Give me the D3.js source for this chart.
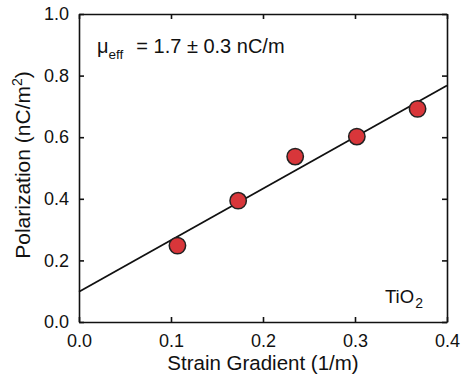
<!DOCTYPE html>
<html>
<head>
<meta charset="utf-8">
<script src="https://cdn.jsdelivr.net/npm/d3@7"></script>
<style>
 body { margin: 0; background: #fff; }
 text { font-family: "Liberation Sans", Arial, sans-serif; fill: #111; }
</style>
</head>
<body>
<div id="chart"></div>
<script>
 // data
 const strainGradient = [0.107, 0.173, 0.235, 0.302, 0.368];
 const polarization = [0.248, 0.394, 0.537, 0.602, 0.692];
 const fitX = [0.0, 0.4];
 const fitY = [0.098, 0.768];
 const xTicks = [0.0, 0.1, 0.2, 0.3, 0.4];
 const yTicks = [0.0, 0.2, 0.4, 0.6, 0.8, 1.0];

 const width = 462,
     height = 380;
 const margin = { top: 14, right: 15, bottom: 58, left: 79 };

 const x = d3.scaleLinear().domain([0, 0.4]).range([margin.left, width - margin.right]);
 const y = d3.scaleLinear().domain([0, 1]).range([height - margin.bottom, margin.top]);

 const svg = d3.select("#chart").append("svg")
     .attr("width", width)
     .attr("height", height);

 // axes, ticks point inward
 const xAxis = svg.append("g")
     .attr("transform", "translate(0," + y(0) + ")")
     .call(d3.axisBottom(x).tickValues(xTicks).tickSizeInner(-5).tickSizeOuter(0).tickPadding(12).tickFormat(d3.format(".1f")));
 const yAxis = svg.append("g")
     .attr("transform", "translate(" + x(0) + ",0)")
     .call(d3.axisLeft(y).tickValues(yTicks).tickSizeInner(-5).tickSizeOuter(0).tickPadding(10).tickFormat(d3.format(".1f")));
 const xTop = svg.append("g")
     .attr("transform", "translate(0," + y(1) + ")")
     .call(d3.axisTop(x).tickValues(xTicks).tickSizeInner(-5).tickSizeOuter(0).tickFormat(""));
 const yRight = svg.append("g")
     .attr("transform", "translate(" + x(0.4) + ",0)")
     .call(d3.axisRight(y).tickValues(yTicks).tickSizeInner(-5).tickSizeOuter(0).tickFormat(""));

 [xAxis, yAxis, xTop, yRight].forEach(function (g) {
     g.selectAll("path, line").attr("stroke", "#111").attr("stroke-width", 1.6);
     g.selectAll("text").attr("font-size", 18).style("font-family", "Liberation Sans, Arial, sans-serif").attr("fill", "#111");
 });

 // fit line
 const line = d3.line().x(function (d) { return x(d[0]); }).y(function (d) { return y(d[1]); });
 svg.append("path")
     .datum(fitX.map(function (v, i) { return [v, fitY[i]]; }))
     .attr("d", line)
     .attr("fill", "none")
     .attr("stroke", "#111")
     .attr("stroke-width", 1.8);

 // points
 svg.selectAll(".pt")
     .data(strainGradient.map(function (v, i) { return { sx: v, p: polarization[i] }; }))
     .enter().append("circle")
     .attr("class", "pt")
     .attr("cx", function (d) { return x(d.sx); })
     .attr("cy", function (d) { return y(d.p); })
     .attr("r", 8.2)
     .attr("fill", "#d8363a")
     .attr("stroke", "#222")
     .attr("stroke-width", 1.5);

 // axis titles
 svg.append("text")
     .attr("x", (x(0) + x(0.4)) / 2)
     .attr("y", 370)
     .attr("text-anchor", "middle")
     .attr("font-size", 20.5)
     .text("Strain Gradient (1/m)");

 const yl = svg.append("text")
     .attr("transform", "translate(30,165) rotate(-90)")
     .attr("text-anchor", "middle")
     .attr("font-size", 21);
 yl.append("tspan").text("Polarization (nC/m");
 yl.append("tspan").attr("dy", -8).attr("font-size", 14).text("2");
 yl.append("tspan").attr("dy", 8).text(")");

 // annotations
 const mu = svg.append("text")
     .attr("x", 97)
     .attr("y", 53)
     .attr("font-size", 20);
 mu.append("tspan").text("μ");
 mu.append("tspan").attr("dy", 6).attr("font-size", 13.5).text("eff");
 mu.append("tspan").attr("dy", -6).attr("dx", 13).text("= 1.7 ± 0.3 nC/m");

 const tio = svg.append("text")
     .attr("x", 385)
     .attr("y", 303)
     .attr("font-size", 18.5);
 tio.append("tspan").text("TiO");
 tio.append("tspan").attr("dy", 5).attr("dx", 1).attr("font-size", 14).text("2");
</script>
</body>
</html>
